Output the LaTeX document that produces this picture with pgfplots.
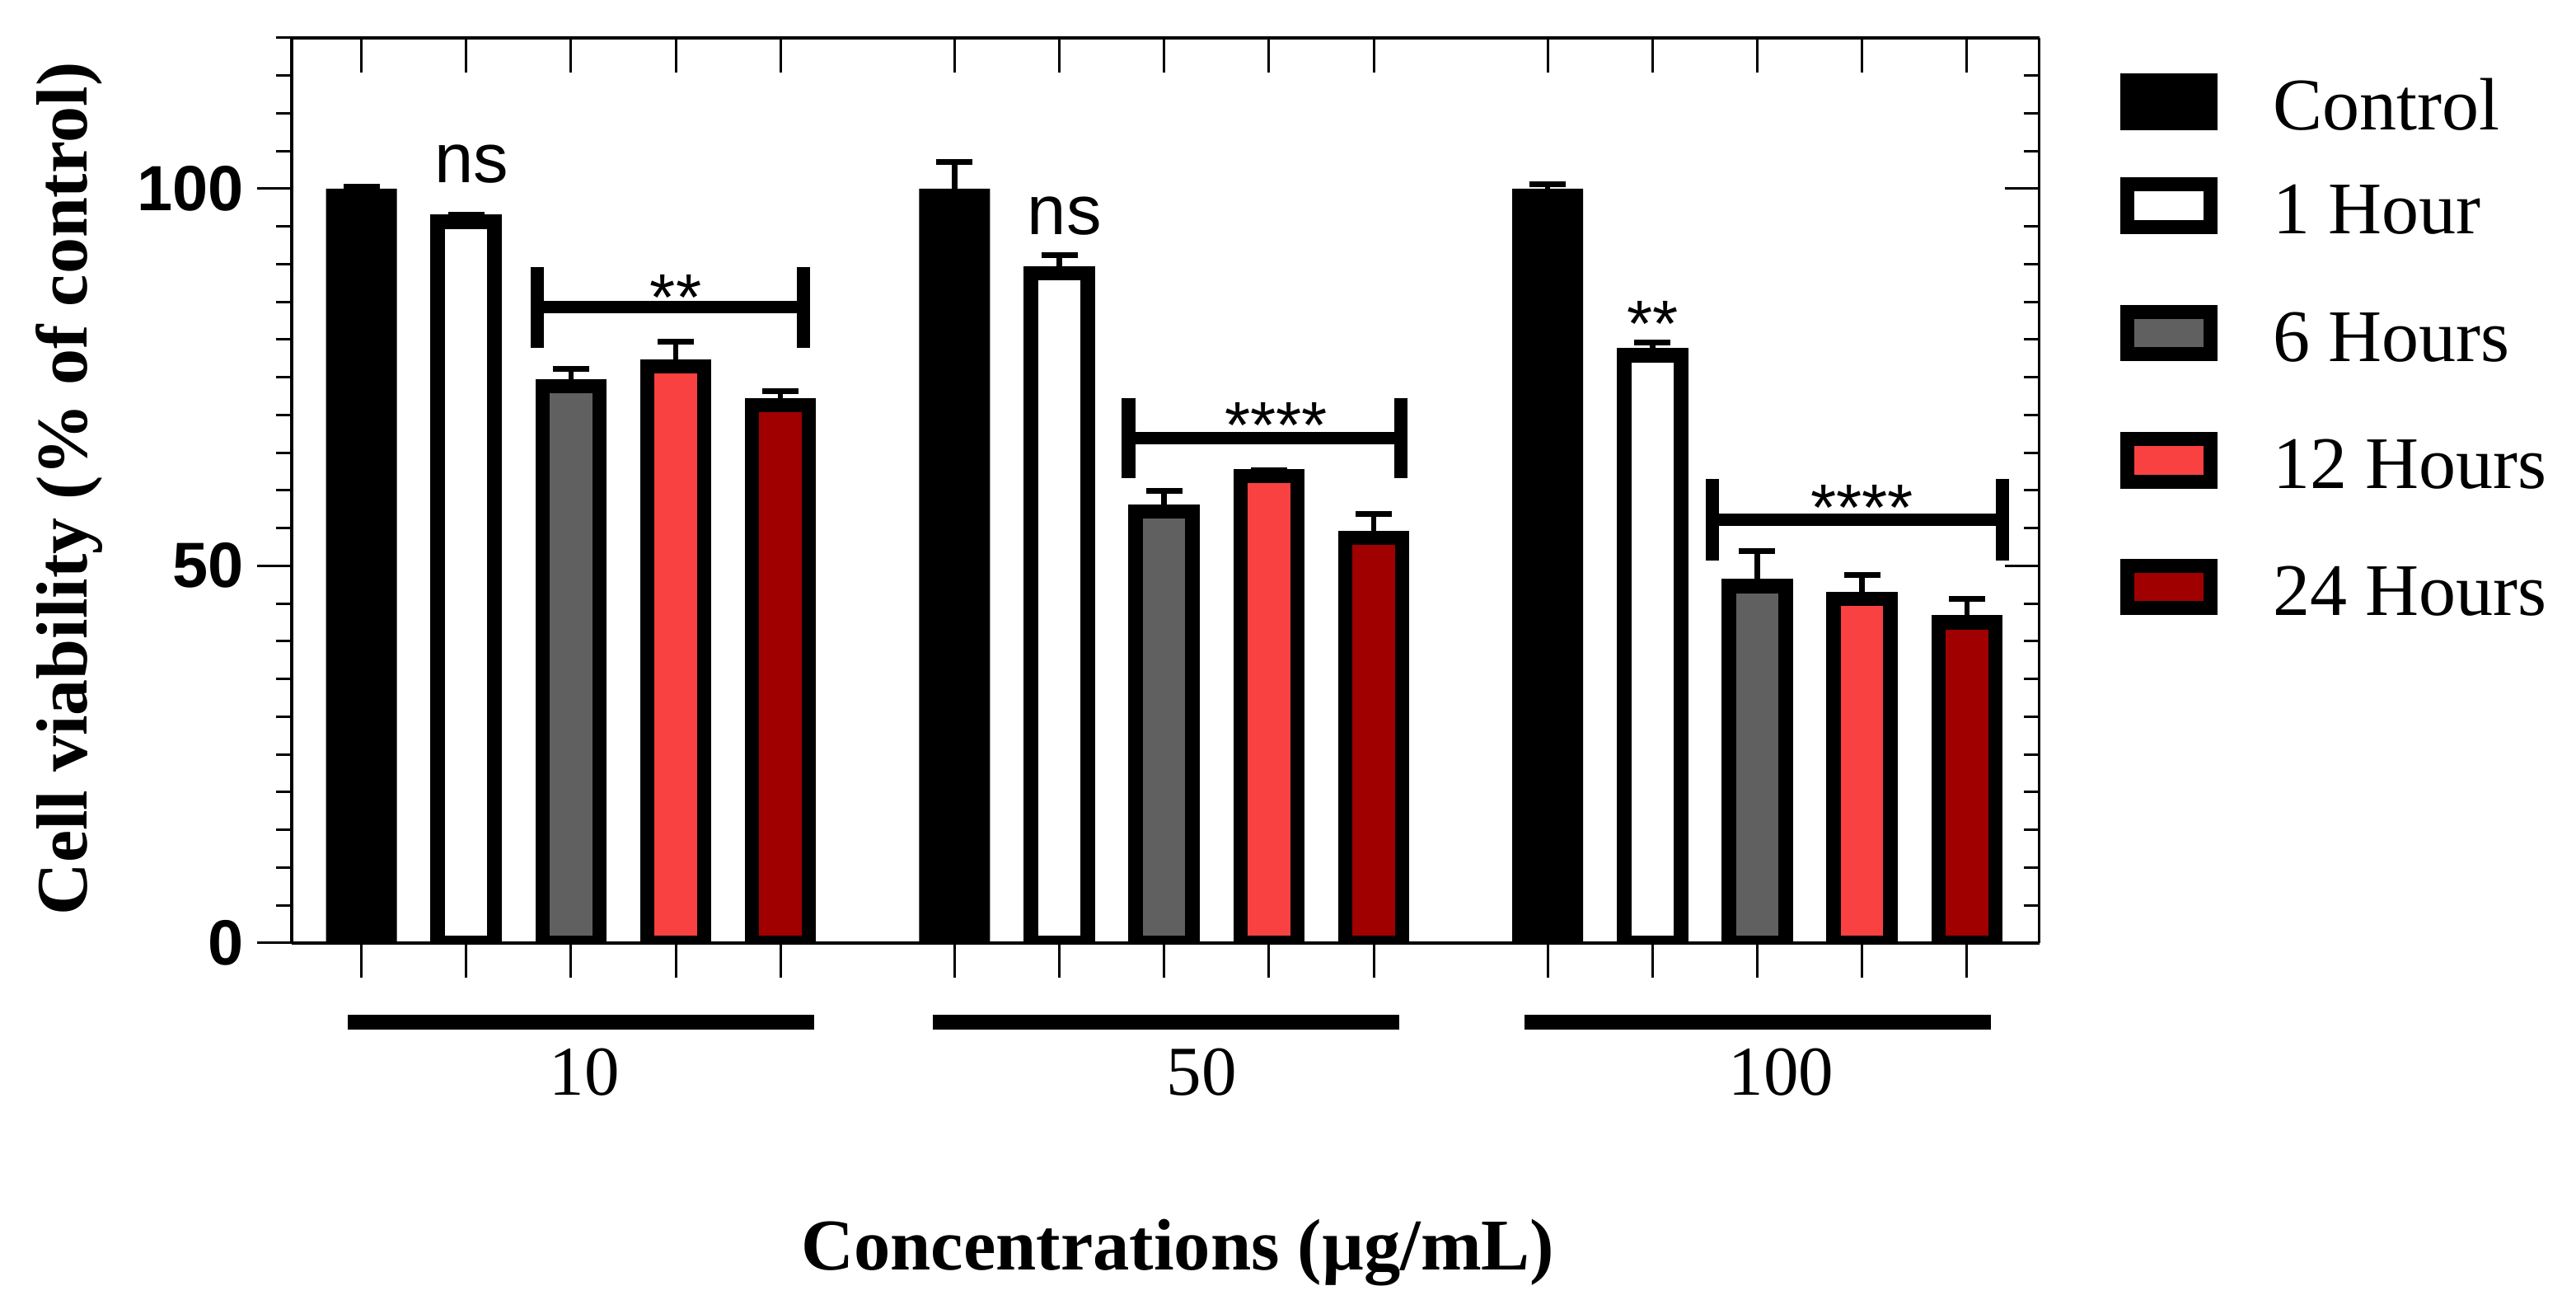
\documentclass[border=0pt]{standalone}
\usepackage{pgfplots}
\pgfplotsset{compat=1.18}
\usepackage{fontspec}
\setmainfont{Liberation Serif}
\newfontfamily\arial{Liberation Sans}
\definecolor{gr}{HTML}{606060}
\definecolor{rd}{HTML}{F94141}
\definecolor{dr}{HTML}{A00000}
\begin{document}
\begin{tikzpicture}
\pgfplotsset{
  base/.style={
    scale only axis, width=424.1pt, height=219.6pt,
    xmin=-0.665, xmax=16.01, ymin=0, ymax=120,
    at={(0,0)}, anchor=south west,
    xtick={0,1,2,3,4,5.66,6.66,7.66,8.66,9.66,11.32,12.32,13.32,14.32,15.32},
    xticklabels={},
    ytick={0,50,100},
    minor ytick={5,10,...,45,55,60,...,95,105,110,115,120},
    axis line style={line width=0.7pt,-},
    major tick style={line width=0.6pt, black},
    minor tick style={line width=0.6pt, black},
    major tick length=8.4pt, minor tick length=3.8pt,
  },
  errs/.style={error bars/.cd, y dir=plus, y explicit,
    error bar style={line width=1.3pt, draw=black, solid},
    error mark options={rotate=90, line width=1.4pt, mark size=4.4pt, draw=black, solid}},
}
\begin{axis}[base,
  axis x line*=bottom, axis y line*=left, tick align=outside,
  /pgf/number format/assume math mode=true,
  yticklabel style={font=\arial\bfseries\fontsize{15.5}{15.5}\selectfont, anchor=east, inner sep=0pt, xshift=-3pt},
  xlabel={Concentrations (µg/mL)},
  xlabel style={at={([yshift=-79.4pt]axis description cs:0.5072,0)}, anchor=base, inner sep=0pt, font=\bfseries\fontsize{17.7}{17.7}\selectfont},
  ylabel={Cell viability (\% of control)},
  ylabel style={at={([xshift=-49.6pt]axis description cs:0,0.5017)}, anchor=base, inner sep=0pt, rotate=0, font=\bfseries\fontsize{17.6}{17.6}\selectfont},
]
% Control
\addplot[ybar, bar shift=0pt, bar width=17.2pt, fill=black, draw=none, errs]
  coordinates {(0,100) +- (0,0.3) (5.66,100) +- (0,3.5) (11.32,100) +- (0,0.6)};
% 1 Hour
\addplot[ybar, bar shift=0pt, bar width=13.8pt, fill=white, draw=black, line width=3.5pt, errs]
  coordinates {(1,95.6) +- (0,0.9) (6.66,88.8) +- (0,2.4) (12.32,77.9) +- (0,1.7)};
% 6 Hours
\addplot[ybar, bar shift=0pt, bar width=13.8pt, fill=gr, draw=black, line width=3.5pt, errs]
  coordinates {(2,73.8) +- (0,2.3) (7.66,57.2) +- (0,2.7) (13.32,47.3) +- (0,4.7)};
% 12 Hours
\addplot[ybar, bar shift=0pt, bar width=13.8pt, fill=rd, draw=black, line width=3.5pt, errs]
  coordinates {(3,76.4) +- (0,3.3) (8.66,61.9) +- (0,0.8) (14.32,45.6) +- (0,3.2)};
% 24 Hours
\addplot[ybar, bar shift=0pt, bar width=13.8pt, fill=dr, draw=black, line width=3.5pt, errs]
  coordinates {(4,71.3) +- (0,1.9) (9.66,53.7) +- (0,3.2) (15.32,42.5) +- (0,3.1)};
\end{axis}
\begin{axis}[base,
  axis x line*=top, axis y line*=right, tick align=inside,
  yticklabels={}, clip=false]
% significance brackets
\addplot[black, line width=3pt] coordinates {(1.68,84.3) (4.22,84.3)};
\addplot[black, line width=3.3pt] coordinates {(1.68,78.9) (1.68,89.6)};
\addplot[black, line width=3.3pt] coordinates {(4.22,78.9) (4.22,89.6)};
\addplot[black, line width=3pt] coordinates {(7.32,66.9) (9.92,66.9)};
\addplot[black, line width=3.3pt] coordinates {(7.32,61.6) (7.32,72.2)};
\addplot[black, line width=3.3pt] coordinates {(9.92,61.6) (9.92,72.2)};
\addplot[black, line width=3pt] coordinates {(12.89,56.1) (15.66,56.1)};
\addplot[black, line width=3.3pt] coordinates {(12.89,50.7) (12.89,61.5)};
\addplot[black, line width=3.3pt] coordinates {(15.66,50.7) (15.66,61.5)};
% group lines
\addplot[black, line width=3.5pt] coordinates {(-0.13,-10.49) (4.32,-10.49)};
\addplot[black, line width=3.5pt] coordinates {(5.45,-10.49) (9.90,-10.49)};
\addplot[black, line width=3.5pt] coordinates {(11.10,-10.49) (15.55,-10.49)};
% texts
\node[font=\arial\fontsize{17}{17}\selectfont, anchor=base, inner sep=0pt] at (axis cs:1.05,100.8) {ns};
\node[font=\arial\fontsize{17}{17}\selectfont, anchor=base, inner sep=0pt] at (axis cs:6.71,93.9) {ns};
\node[font=\arial\fontsize{16}{16}\selectfont, anchor=base, inner sep=0pt] at (axis cs:3.0,82.6) {**};
\node[font=\arial\fontsize{16}{16}\selectfont, anchor=base, inner sep=0pt] at (axis cs:8.73,65.6) {****};
\node[font=\arial\fontsize{16}{16}\selectfont, anchor=base, inner sep=0pt] at (axis cs:12.32,79.1) {**};
\node[font=\arial\fontsize{16}{16}\selectfont, anchor=base, inner sep=0pt] at (axis cs:14.32,54.7) {****};
\node[font=\fontsize{17}{17}\selectfont, anchor=base, inner sep=0pt] at ([yshift=-36.9pt]axis cs:2.13,0) {10};
\node[font=\fontsize{17}{17}\selectfont, anchor=base, inner sep=0pt] at ([yshift=-36.9pt]axis cs:8.02,0) {50};
\node[font=\fontsize{17}{17}\selectfont, anchor=base, inner sep=0pt] at ([yshift=-36.9pt]axis cs:13.55,0) {100};
\end{axis}
% legend
\fill[black] (443.8pt,197.24pt) rectangle (467.4pt,210.94pt);
\draw[line width=3.4pt, fill=white] (445.5pt,173.74pt) rectangle (465.7pt,184.04pt);
\draw[line width=3.4pt, fill=gr] (445.5pt,142.78pt) rectangle (465.7pt,153.08pt);
\draw[line width=3.4pt, fill=rd] (445.5pt,111.94pt) rectangle (465.7pt,122.24pt);
\draw[line width=3.4pt, fill=dr] (445.5pt,81.18pt) rectangle (465.7pt,91.48pt);
\begin{scope}[every node/.style={anchor=base west, inner sep=0pt, font=\fontsize{18}{18}\selectfont}]
\node at (480.6pt,197.24pt) {Control};
\node at (480.6pt,172.04pt) {1 Hour};
\node at (480.6pt,141.08pt) {6 Hours};
\node at (480.6pt,110.24pt) {12 Hours};
\node at (480.6pt,79.48pt) {24 Hours};
\end{scope}
\pgfresetboundingbox
\path[use as bounding box] (-70.8pt,-89.84pt) rectangle (554.4pt,228.76pt);
\end{tikzpicture}
\end{document}
